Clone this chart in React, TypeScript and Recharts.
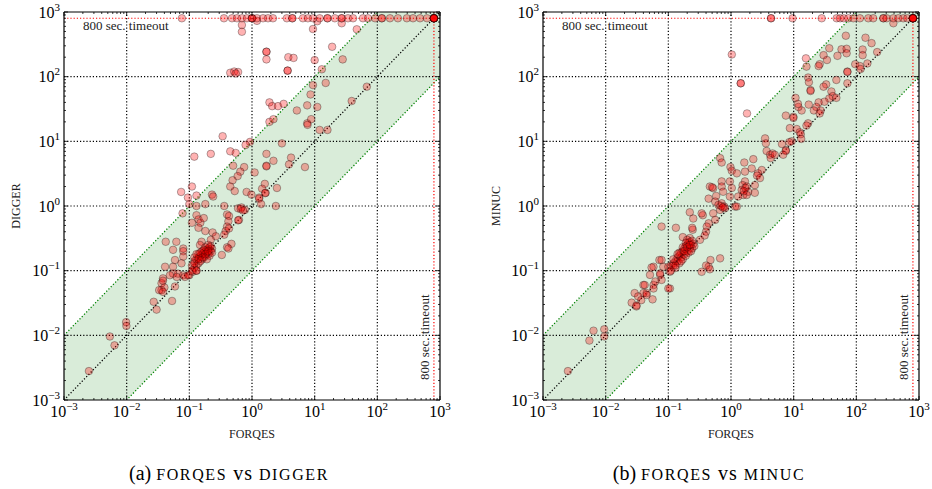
import React from 'react';
import { ComposedChart, XAxis, YAxis, Scatter, Area, ReferenceLine } from 'recharts';

// ---------- data ----------
const decadeTicks = [0.001, 0.01, 0.1, 1, 10, 100, 1000];
const decadeExponents = ['\u22123', '\u22122', '\u22121', '0', '1', '2', '3'];
const minorMultipliers = [2, 3, 4, 5, 6, 7, 8, 9];
const gridDecades = [0.01, 0.1, 1, 10, 100];
const TIMEOUT = 800;
const AXIS_MIN = 0.001;
const AXIS_MAX = 1000;

// 10x band around the diagonal
const bandX = [0.001, 1000];
const bandLower = [0.0001, 100];
const bandUpper = [0.01, 10000];

// FORQES runtime where DIGGER timed out (y = 800)
const diggerTimeoutX = [
  0.076, 0.357, 0.48, 0.575, 0.69, 0.83, 1.0, 1.0, 1.0, 1.2, 1.5, 1.8, 2.16, 3.6, 4.4, 4.4,
  6.5, 7.8, 9.4, 12, 16, 16, 21, 27, 27, 34, 41, 59, 71, 92, 118, 118, 159, 213, 296, 371,
  480, 620, 800, 800, 800, 800, 800, 800, 800, 800,
];

// FORQES vs DIGGER (seconds)
const forqesVsDigger: [number, number][] = [
  [0.69, 630], [0.69, 495], [1.2, 730], [9.4, 545], [11, 720], [27, 670], [47, 540], [19, 290],
  [1.7, 243], [1.7, 243], [1.7, 185], [3.8, 200], [4.6, 195], [10, 180], [28, 185], [3.7, 124],
  [3.7, 124], [13, 130], [0.45, 115], [0.52, 120], [0.6, 118], [0.55, 112], [9.4, 74], [15, 80],
  [68, 70], [8.6, 53], [39, 42], [1.9, 40], [2.1, 35], [2.6, 35], [3.2, 38], [5.2, 30], [7.6, 36],
  [11, 34], [1.9, 20], [2.2, 22], [7.6, 19], [8.8, 22], [12, 15], [16, 15], [7.7, 18],
  [0.34, 12], [0.93, 9.8], [0.79, 8.8], [3, 9.3], [0.45, 7], [0.55, 6.6], [0.12, 5.8], [0.22, 6.4],
  [1.7, 6.4], [2.2, 5], [4.2, 5.6], [3.9, 4.4], [7, 4], [1.7, 4.2], [1.7, 4.1], [0.5, 4.2],
  [0.75, 4], [0.65, 3.4], [1.1, 3.3], [0.59, 2.9], [0.49, 2.5], [0.45, 2], [0.53, 1.7], [1.6, 2.2],
  [2.5, 1.9], [0.82, 1.65], [0.98, 1.5], [1.45, 1.85], [1.65, 1.6], [1.62, 1.58], [1.3, 1.35],
  [1.3, 1.3], [1.4, 1.07], [2.4, 1.0], [0.074, 1.65], [0.11, 2.0], [0.095, 1.35], [0.13, 1.45],
  [0.1, 1.07], [0.13, 1.0], [0.18, 1.07], [0.23, 1.5], [0.24, 1.4], [0.36, 1.0], [0.6, 0.92],
  [0.68, 0.95], [0.77, 0.87], [0.66, 0.9], [0.72, 0.85], [0.078, 0.77], [0.13, 0.72], [0.14, 0.62],
  [0.11, 0.55], [0.15, 0.55], [0.14, 0.46], [0.4, 0.74], [0.43, 0.7], [0.62, 0.61], [0.6, 0.6],
  [0.42, 0.58], [0.4, 0.48], [0.38, 0.41], [0.36, 0.36], [0.235, 0.39], [0.265, 0.34],
  [0.042, 0.28], [0.062, 0.28], [0.08, 0.22], [0.157, 0.28], [0.148, 0.25], [0.4, 0.23],
  [0.47, 0.26], [0.18, 0.41], [0.22, 0.3], [0.055, 0.21], [0.08, 0.2], [0.08, 0.165],
  [0.059, 0.146], [0.075, 0.13], [0.041, 0.115], [0.055, 0.115], [0.066, 0.09], [0.08, 0.085],
  [0.1, 0.085], [0.038, 0.076], [0.036, 0.064], [0.036, 0.05], [0.038, 0.07], [0.04, 0.055],
  [0.42, 0.22], [0.33, 0.175], [0.43, 0.45], [0.17, 0.65], [0.055, 0.09], [0.049, 0.085],
  [0.063, 0.08], [0.033, 0.05], [0.038, 0.047], [0.059, 0.057], [0.053, 0.034], [0.027, 0.033],
  [0.03, 0.025], [0.0098, 0.016], [0.0099, 0.014], [0.0054, 0.0096], [0.0064, 0.007],
  [0.0025, 0.0028], [0.085, 0.08], [0.096, 0.085], [0.113, 0.096], [0.13, 0.1],
  [0.12, 0.14], [0.13, 0.15], [0.14, 0.16], [0.15, 0.17], [0.16, 0.18], [0.17, 0.19], [0.18, 0.2],
  [0.19, 0.21], [0.2, 0.22], [0.21, 0.23], [0.22, 0.2], [0.2, 0.18], [0.18, 0.17], [0.16, 0.15],
  [0.14, 0.13], [0.13, 0.12], [0.12, 0.11], [0.11, 0.12], [0.15, 0.14], [0.17, 0.16], [0.19, 0.19],
  [0.21, 0.21], [0.23, 0.22], [0.22, 0.24], [0.2, 0.25], [0.18, 0.23], [0.16, 0.2], [0.14, 0.18],
  [0.12, 0.16], [0.13, 0.18], [0.21, 0.17], [0.23, 0.19], [0.17, 0.21], [0.15, 0.19], [0.11, 0.1],
  [0.13, 0.1], [0.12, 0.13], [0.19, 0.15], [0.16, 0.16], [0.18, 0.18], [0.14, 0.15], [0.2, 0.2],
];

// FORQES runtime where MINUC timed out (y = 800)
const minucTimeoutX = [
  4.35, 4.35, 9.6, 28, 48.5, 55, 63, 74.5, 89.5, 114, 155, 186, 270, 270, 305, 389, 467, 560,
  650, 800, 800, 800, 800, 800, 800, 800, 800,
];

// FORQES vs MINUC (seconds)
const forqesVsMinuc: [number, number][] = [
  [1.03, 220], [1.43, 79], [1.43, 79], [1.8, 27], [390, 670], [68, 430], [140, 400], [175, 330],
  [37, 275], [58, 265], [70, 270], [30, 215], [50, 210], [70, 230], [126, 263], [215, 240],
  [126, 215], [15.7, 192], [26, 156], [34, 181], [25, 146], [16, 143], [96, 156], [114, 146],
  [117, 131], [150, 160], [72, 120], [72, 118], [17, 97], [17.5, 82], [33, 76], [48, 89], [72, 79],
  [18.6, 62], [18.6, 60], [30, 70], [40, 59], [42, 50], [48, 47], [37, 46], [31, 41], [25, 40],
  [23, 34], [21, 30], [27, 30], [26, 27], [17.4, 37], [13.4, 30], [11.9, 34], [11.7, 38],
  [10.7, 47], [7.5, 25], [9.9, 24], [9.9, 23], [8.7, 16], [11.2, 15.5], [17, 19], [12.5, 13.8],
  [16, 17.5], [13, 12.9], [13.2, 10.9], [9.3, 10], [8.5, 9.7], [6.5, 9.1], [7.5, 7.3], [7.5, 7.1],
  [3.5, 11.1], [3.6, 9.3], [3.7, 7.1], [4.2, 6.2], [4.6, 6.5], [4.3, 5.5], [5, 6.2], [6.8, 6.2],
  [1.63, 4.7], [2.27, 5.3], [2.14, 3.8], [1.67, 3.4], [3.1, 3.6], [2.7, 3.2], [2.6, 2.95],
  [2.9, 2.7], [0.98, 4], [1.03, 3.5], [1.24, 3.2], [0.67, 5.5], [0.71, 4.7], [1.67, 2.4],
  [1.53, 2.1], [1.78, 2.0], [1.48, 1.77], [1.88, 1.66], [1.57, 1.48], [1.78, 1.48], [1.7, 1.9],
  [1.6, 1.7], [2.4, 2.1], [2.4, 1.6], [0.96, 2.4], [1.03, 1.9], [0.96, 1.4], [1.3, 1.4],
  [1.16, 0.98], [0.71, 2.4], [0.71, 2.0], [0.75, 1.66], [0.46, 2.0], [0.52, 1.88], [0.5, 1.95],
  [0.44, 1.3], [0.58, 1.43], [0.56, 1.17], [0.63, 1.04], [0.71, 1.1], [0.78, 0.98], [0.67, 0.87],
  [0.8, 0.92], [0.7, 1.0], [0.74, 0.95], [1.24, 0.98], [0.22, 0.8], [0.355, 0.72], [0.25, 0.64],
  [0.52, 0.77], [0.56, 0.61], [0.44, 0.54], [0.41, 0.48], [0.4, 0.4], [0.38, 0.35], [0.245, 0.43],
  [0.078, 0.48], [0.132, 0.46], [0.17, 0.33], [0.22, 0.32], [0.32, 0.3], [0.34, 0.77], [0.24, 0.46],
  [0.67, 0.155], [0.47, 0.146], [0.44, 0.115], [0.4, 0.12], [0.46, 0.105], [0.34, 0.096],
  [0.072, 0.146], [0.058, 0.115], [0.083, 0.115], [0.051, 0.086], [0.074, 0.086], [0.04, 0.06],
  [0.058, 0.06], [0.106, 0.053], [0.029, 0.045], [0.045, 0.045], [0.054, 0.112], [0.078, 0.146],
  [0.1, 0.115], [0.106, 0.096], [0.074, 0.091], [0.062, 0.068], [0.078, 0.072], [0.058, 0.053],
  [0.042, 0.06], [0.04, 0.045], [0.045, 0.042], [0.033, 0.04], [0.037, 0.035], [0.056, 0.036],
  [0.026, 0.032], [0.031, 0.028], [0.031, 0.029], [0.1, 0.053], [0.0095, 0.0124], [0.0095, 0.0096],
  [0.0064, 0.0118], [0.0055, 0.0083], [0.0025, 0.0028],
  [0.11, 0.12], [0.12, 0.13], [0.13, 0.14], [0.14, 0.16], [0.15, 0.17], [0.16, 0.19], [0.17, 0.2],
  [0.18, 0.22], [0.19, 0.24], [0.2, 0.25], [0.21, 0.27], [0.22, 0.28], [0.2, 0.3], [0.23, 0.25],
  [0.24, 0.22], [0.25, 0.26], [0.22, 0.22], [0.2, 0.2], [0.18, 0.18], [0.16, 0.16], [0.14, 0.14],
  [0.12, 0.12], [0.13, 0.11], [0.15, 0.13], [0.17, 0.15], [0.19, 0.17], [0.21, 0.19], [0.23, 0.2],
  [0.26, 0.24], [0.15, 0.19], [0.17, 0.23], [0.19, 0.27], [0.12, 0.15], [0.14, 0.18], [0.24, 0.29],
  [0.11, 0.1], [0.13, 0.12], [0.16, 0.14], [0.18, 0.2], [0.2, 0.23], [0.22, 0.25],
];

// ---------- layout / style ----------
const FONT = "'Liberation Serif', 'DejaVu Serif', serif";
const CH_W = 453;
const CH_H = 445;
const MARGIN = { top: 12, right: 13, bottom: 0, left: 8 };
const Y_AXIS_W = 56;
const X_AXIS_H = 45;
const PLOT_LEFT = MARGIN.left + Y_AXIS_W;
const PLOT_RIGHT = CH_W - MARGIN.right;
const PLOT_TOP = MARGIN.top;
const PLOT_BOTTOM = CH_H - MARGIN.bottom - X_AXIS_H;
const DOT = '1.2 2';

const allTicks: number[] = [
  ...decadeTicks,
  ...decadeTicks.slice(0, -1).flatMap((d) => minorMultipliers.map((m) => m * d)),
].sort((a, b) => a - b);

const bandData = bandX.map((x, i) => ({ x, band: [bandLower[i], bandUpper[i]] }));

const decadeIndex = (v: number) => decadeTicks.findIndex((d) => Math.abs(d - v) / d < 1e-6);

const XTick = (props: any) => {
  const { x, payload } = props;
  const idx = decadeIndex(payload.value);
  const len = idx >= 0 ? 4 : 2;
  return (
    <g>
      <line x1={x} x2={x} y1={PLOT_BOTTOM} y2={PLOT_BOTTOM - len} stroke="#000" strokeWidth={0.8} />
      <line x1={x} x2={x} y1={PLOT_TOP} y2={PLOT_TOP + len} stroke="#000" strokeWidth={0.8} />
      {idx >= 0 && (
        <text x={x} y={PLOT_BOTTOM + 17} textAnchor="middle" fontFamily={FONT} fontSize={16} fill="#000">
          <tspan>10</tspan>
          <tspan dy={-7} fontSize={11}>{decadeExponents[idx]}</tspan>
        </text>
      )}
    </g>
  );
};

const YTick = (props: any) => {
  const { y, payload } = props;
  const idx = decadeIndex(payload.value);
  const len = idx >= 0 ? 4 : 2;
  return (
    <g>
      <line x1={PLOT_LEFT} x2={PLOT_LEFT + len} y1={y} y2={y} stroke="#000" strokeWidth={0.8} />
      <line x1={PLOT_RIGHT} x2={PLOT_RIGHT - len} y1={y} y2={y} stroke="#000" strokeWidth={0.8} />
      {idx >= 0 && (
        <text x={PLOT_LEFT - 4} y={y + 5.5} textAnchor="end" fontFamily={FONT} fontSize={16} fill="#000">
          <tspan>10</tspan>
          <tspan dy={-7} fontSize={11}>{decadeExponents[idx]}</tspan>
        </text>
      )}
    </g>
  );
};

const PointShape = (props: any) => (
  <circle cx={props.cx} cy={props.cy} r={3.8} fill="#ff0000" fillOpacity={0.3} stroke="#000" strokeOpacity={0.3} strokeWidth={1} />
);

const HLabel = (props: any) => {
  const vb = props.viewBox || {};
  return (
    <text x={(vb.x ?? 0) + 19} y={(vb.y ?? 0) + 12} fontFamily={FONT} fontSize={13} fill="#222">
      800 sec. timeout
    </text>
  );
};

const VLabel = (props: any) => {
  const vb = props.viewBox || {};
  const x = (vb.x ?? 0) - 5;
  const y = (vb.y ?? 0) + (vb.height ?? 0) - 20;
  return (
    <text x={x} y={y} transform={`rotate(-90 ${x} ${y})`} fontFamily={FONT} fontSize={13} fill="#222">
      800 sec. timeout
    </text>
  );
};

type PanelProps = { pairs: [number, number][]; timeoutX: number[] };

const Panel = ({ pairs, timeoutX }: PanelProps) => {
  const points = [
    ...pairs.map(([x, y]) => ({ x, y })),
    ...timeoutX.map((x) => ({ x, y: TIMEOUT })),
  ];
  return (
    <ComposedChart width={CH_W} height={CH_H} margin={MARGIN}>
      <XAxis
        dataKey="x"
        type="number"
        scale="log"
        domain={[AXIS_MIN, AXIS_MAX]}
        allowDataOverflow
        ticks={allTicks}
        interval={0}
        tick={<XTick />}
        tickLine={false}
        height={X_AXIS_H}
        axisLine={{ stroke: '#000', strokeWidth: 1.2 }}
      />
      <YAxis
        dataKey="y"
        type="number"
        scale="log"
        domain={[AXIS_MIN, AXIS_MAX]}
        allowDataOverflow
        ticks={allTicks}
        interval={0}
        tick={<YTick />}
        tickLine={false}
        width={Y_AXIS_W}
        axisLine={{ stroke: '#000', strokeWidth: 1.2 }}
      />
      <Area
        data={bandData}
        dataKey="band"
        type="linear"
        fill="#008000"
        fillOpacity={0.15}
        stroke="#008000"
        strokeDasharray={DOT}
        strokeWidth={1.3}
        dot={false}
        activeDot={false}
        isAnimationActive={false}
      />
      {gridDecades.map((d) => (
        <ReferenceLine key={`gx${d}`} x={d} stroke="#000" strokeDasharray={DOT} strokeWidth={1.2} />
      ))}
      {gridDecades.map((d) => (
        <ReferenceLine key={`gy${d}`} y={d} stroke="#000" strokeDasharray={DOT} strokeWidth={1.2} />
      ))}
      <ReferenceLine
        segment={[{ x: AXIS_MIN, y: AXIS_MIN }, { x: AXIS_MAX, y: AXIS_MAX }]}
        stroke="#000"
        strokeDasharray={DOT}
        strokeWidth={1.3}
      />
      <ReferenceLine y={TIMEOUT} stroke="#ff0000" strokeDasharray={DOT} strokeWidth={1.2} label={<HLabel />} />
      <ReferenceLine x={TIMEOUT} stroke="#ff0000" strokeDasharray={DOT} strokeWidth={1.2} label={<VLabel />} />
      <ReferenceLine y={AXIS_MAX} stroke="#000" strokeWidth={1.2} />
      <ReferenceLine x={AXIS_MAX} stroke="#000" strokeWidth={1.2} />
      <Scatter data={points} shape={<PointShape />} isAnimationActive={false} />
    </ComposedChart>
  );
};

const RIGHT_OFFSET = 479;

const Caption = ({ cx, tag, a, b }: { cx: number; tag: string; a: string; b: string }) => (
  <text x={cx} y={480} textAnchor="middle" fontSize={20} fill="#000">
    <tspan>{tag} </tspan>
    <tspan fontSize={16} letterSpacing={1.6}>{a}</tspan>
    <tspan letterSpacing={1}> vs </tspan>
    <tspan fontSize={16} letterSpacing={1.6}>{b}</tspan>
  </text>
);

export default function App() {
  return (
    <div style={{ position: 'absolute', left: 0, top: 0, width: 932, height: 489, overflow: 'hidden', background: '#fff' }}>
      <div style={{ position: 'absolute', left: 0, top: 0 }}>
        <Panel pairs={forqesVsDigger} timeoutX={diggerTimeoutX} />
      </div>
      <div style={{ position: 'absolute', left: RIGHT_OFFSET, top: 0 }}>
        <Panel pairs={forqesVsMinuc} timeoutX={minucTimeoutX} />
      </div>
      <svg width={932} height={489} style={{ position: 'absolute', left: 0, top: 0, pointerEvents: 'none' }}>
        <g fontFamily={FONT} fill="#222">
          <text x={(PLOT_LEFT + PLOT_RIGHT) / 2} y={438} textAnchor="middle" fontSize={12}>FORQES</text>
          <text x={RIGHT_OFFSET + (PLOT_LEFT + PLOT_RIGHT) / 2} y={438} textAnchor="middle" fontSize={12}>FORQES</text>
          <text x={20} y={206} textAnchor="middle" fontSize={12} transform="rotate(-90 20 206)">DIGGER</text>
          <text x={500} y={206} textAnchor="middle" fontSize={12} transform="rotate(-90 500 206)">MINUC</text>
          <Caption cx={229} tag="(a)" a="FORQES" b="DIGGER" />
          <Caption cx={709} tag="(b)" a="FORQES" b="MINUC" />
        </g>
      </svg>
    </div>
  );
}
